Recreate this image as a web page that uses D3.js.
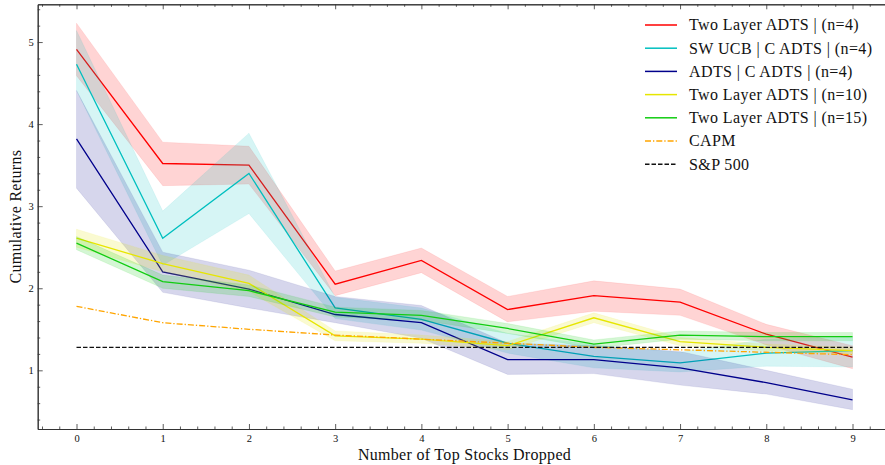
<!DOCTYPE html>
<html>
<head>
<meta charset="utf-8">
<script src="https://cdn.jsdelivr.net/npm/d3@7"></script>
<style>
  html, body { margin: 0; padding: 0; background: #fff; }
  svg { display: block; }
  text { font-family: "Liberation Serif", "DejaVu Serif", serif; fill: #111; }
</style>
</head>
<body>
<svg id="chart" width="885" height="465"></svg>
<script>
// Number of top stocks removed from the universe
const dropped = [0, 1, 2, 3, 4, 5, 6, 7, 8, 9];

// Two Layer ADTS | (n=4)
const twoLayer4 = [4.91, 3.52, 3.50, 2.05, 2.34, 1.74, 1.91, 1.83, 1.44, 1.16];
const twoLayer4Lo = [4.59, 3.25, 3.27, 1.91, 2.19, 1.59, 1.72, 1.67, 1.31, 1.02];
const twoLayer4Hi = [5.23, 3.78, 3.73, 2.21, 2.49, 1.90, 2.09, 1.99, 1.56, 1.30];

// SW UCB | C ADTS | (n=4)
const swUcb = [4.73, 2.61, 3.40, 1.76, 1.62, 1.33, 1.17, 1.09, 1.21, 1.24];
const swUcbLo = [4.41, 2.28, 2.91, 1.63, 1.49, 1.21, 1.03, 0.98, 1.05, 1.04];
const swUcbHi = [5.14, 2.94, 3.89, 1.89, 1.76, 1.45, 1.31, 1.22, 1.38, 1.41];

// ADTS | C ADTS | (n=4)
const adts = [3.82, 2.20, 1.99, 1.68, 1.58, 1.13, 1.13, 1.03, 0.85, 0.64];
const adtsLo = [3.22, 1.95, 1.76, 1.58, 1.39, 0.95, 0.96, 0.82, 0.71, 0.52];
const adtsHi = [4.41, 2.44, 2.22, 1.90, 1.79, 1.33, 1.30, 1.23, 1.00, 0.77];

// Two Layer ADTS | (n=10)
const twoLayer10 = [2.61, 2.30, 2.06, 1.42, 1.38, 1.30, 1.64, 1.35, 1.28, 1.24];
const twoLayer10Lo = [2.50, 2.20, 1.96, 1.36, 1.33, 1.25, 1.58, 1.30, 1.24, 1.20];
const twoLayer10Hi = [2.72, 2.40, 2.16, 1.48, 1.43, 1.35, 1.70, 1.40, 1.32, 1.28];

// Two Layer ADTS | (n=15)
const twoLayer15 = [2.55, 2.08, 1.97, 1.71, 1.67, 1.51, 1.32, 1.43, 1.41, 1.41];
const twoLayer15Lo = [2.47, 2.00, 1.90, 1.65, 1.61, 1.45, 1.27, 1.38, 1.36, 1.36];
const twoLayer15Hi = [2.63, 2.16, 2.04, 1.77, 1.73, 1.57, 1.37, 1.48, 1.46, 1.46];

// Benchmarks
const capm = [1.78, 1.58, 1.50, 1.43, 1.38, 1.33, 1.28, 1.25, 1.22, 1.19];
const sp500 = [1.28, 1.28, 1.28, 1.28, 1.28, 1.28, 1.28, 1.28, 1.28, 1.28];

const xTicks = [0, 1, 2, 3, 4, 5, 6, 7, 8, 9];
const yTicks = [1, 2, 3, 4, 5];

const svg = d3.select("#chart");
const plotLeft = 37.7, plotTop = 4.3, plotBottom = 429, plotRight = 891.3;

const x = d3.scaleLinear().domain([-0.45, 9.45]).range([plotLeft, plotRight]);
const y = d3.scaleLinear().domain([0.285, 5.46]).range([plotBottom, plotTop]);

svg.append("defs").append("clipPath").attr("id", "plotClip")
  .append("rect").attr("x", plotLeft).attr("y", plotTop)
  .attr("width", plotRight - plotLeft).attr("height", plotBottom - plotTop);

const plot = svg.append("g").attr("clip-path", "url(#plotClip)");

const series = [
  { name: "Two Layer ADTS | (n=4)", mean: twoLayer4, lo: twoLayer4Lo, hi: twoLayer4Hi, color: "#ff0000", fill: 0.17 },
  { name: "SW UCB | C ADTS | (n=4)", mean: swUcb, lo: swUcbLo, hi: swUcbHi, color: "#00bfbf", fill: 0.16 },
  { name: "ADTS | C ADTS | (n=4)", mean: adts, lo: adtsLo, hi: adtsHi, color: "#00008b", fill: 0.16 },
  { name: "Two Layer ADTS | (n=10)", mean: twoLayer10, lo: twoLayer10Lo, hi: twoLayer10Hi, color: "#e6e600", fill: 0.18 },
  { name: "Two Layer ADTS | (n=15)", mean: twoLayer15, lo: twoLayer15Lo, hi: twoLayer15Hi, color: "#11cc11", fill: 0.18 }
];

const area = d3.area()
  .x((d, i) => x(dropped[i]))
  .y0(d => y(d[0]))
  .y1(d => y(d[1]));
const line = d3.line()
  .x((d, i) => x(dropped[i]))
  .y(d => y(d));

series.forEach(s => {
  plot.append("path")
    .datum(s.lo.map((v, i) => [v, s.hi[i]]))
    .attr("d", area)
    .attr("fill", s.color)
    .attr("fill-opacity", s.fill)
    .attr("stroke", s.color)
    .attr("stroke-opacity", s.fill * 0.6)
    .attr("stroke-width", 0.8);
  plot.append("path")
    .datum(s.mean)
    .attr("d", line)
    .attr("fill", "none")
    .attr("stroke", s.color)
    .attr("stroke-width", 1.3);
});

plot.append("path").datum(capm).attr("d", line)
  .attr("fill", "none").attr("stroke", "#ffa500").attr("stroke-width", 1.3)
  .attr("stroke-dasharray", "6,2,1.3,2");

plot.append("path").datum(sp500).attr("d", line)
  .attr("fill", "none").attr("stroke", "#111").attr("stroke-width", 1.3)
  .attr("stroke-dasharray", "4.5,2");

// Axes with inward ticks, minor ticks every 0.2
const xMinor = d3.range(-0.4, 9.45, 0.2).map(v => +v.toFixed(1)).filter(v => Math.abs(v - Math.round(v)) > 1e-6);
const yMinor = d3.range(0.4, 5.45, 0.2).map(v => +v.toFixed(1)).filter(v => Math.abs(v - Math.round(v)) > 1e-6);

function styleAxis(g) {
  g.select(".domain").attr("stroke", "#333").attr("stroke-width", 1);
  g.selectAll(".tick line").attr("stroke", "#333").attr("stroke-width", 0.8);
  g.selectAll(".tick text").attr("font-size", 10.5).attr("fill", "#222")
    .style("font-family", '"Liberation Serif", "DejaVu Serif", serif');
}

svg.append("g").attr("transform", `translate(0,${plotBottom})`)
  .call(d3.axisBottom(x).tickValues(xTicks).tickFormat(d3.format("d")).tickSizeInner(-5).tickSizeOuter(0).tickPadding(6))
  .call(styleAxis);
svg.append("g").attr("transform", `translate(0,${plotBottom})`)
  .call(d3.axisBottom(x).tickValues(xMinor).tickFormat("").tickSizeInner(-2.5).tickSizeOuter(0))
  .call(styleAxis);
svg.append("g").attr("transform", `translate(0,${plotTop})`)
  .call(d3.axisTop(x).tickValues(xTicks).tickFormat("").tickSizeInner(-5).tickSizeOuter(0))
  .call(styleAxis);
svg.append("g").attr("transform", `translate(0,${plotTop})`)
  .call(d3.axisTop(x).tickValues(xMinor).tickFormat("").tickSizeInner(-2.5).tickSizeOuter(0))
  .call(styleAxis);

svg.append("g").attr("transform", `translate(${plotLeft},0)`)
  .call(d3.axisLeft(y).tickValues(yTicks).tickFormat(d3.format("d")).tickSizeInner(-5).tickSizeOuter(0).tickPadding(4))
  .call(styleAxis);
svg.append("g").attr("transform", `translate(${plotLeft},0)`)
  .call(d3.axisLeft(y).tickValues(yMinor).tickFormat("").tickSizeInner(-2.5).tickSizeOuter(0))
  .call(styleAxis);

// Axis titles
svg.append("text")
  .attr("x", (plotLeft + plotRight) / 2).attr("y", 460)
  .attr("text-anchor", "middle").attr("font-size", 16)
  .attr("letter-spacing", 0.3)
  .text("Number of Top Stocks Dropped");
svg.append("text")
  .attr("transform", `translate(21,${(plotTop + plotBottom) / 2}) rotate(-90)`)
  .attr("text-anchor", "middle").attr("font-size", 16)
  .attr("letter-spacing", 0.3)
  .text("Cumulative Returns");

// Legend
const legendItems = series.map(s => ({ name: s.name, color: s.color, dash: null }))
  .concat([
    { name: "CAPM", color: "#ffa500", dash: "6,2,1.3,2" },
    { name: "S&P 500", color: "#111", dash: "4.5,2" }
  ]);
const legend = svg.append("g").attr("transform", "translate(645,25)");
legendItems.forEach((d, i) => {
  const row = legend.append("g").attr("transform", `translate(0,${i * 23.2})`);
  row.append("line").attr("x1", 0).attr("x2", 32).attr("y1", 0).attr("y2", 0)
    .attr("stroke", d.color).attr("stroke-width", 1.5)
    .attr("stroke-dasharray", d.dash);
  row.append("text").attr("x", 44).attr("y", 5.4)
    .attr("font-size", 16).attr("letter-spacing", 0.4).text(d.name);
});
</script>
</body>
</html>
